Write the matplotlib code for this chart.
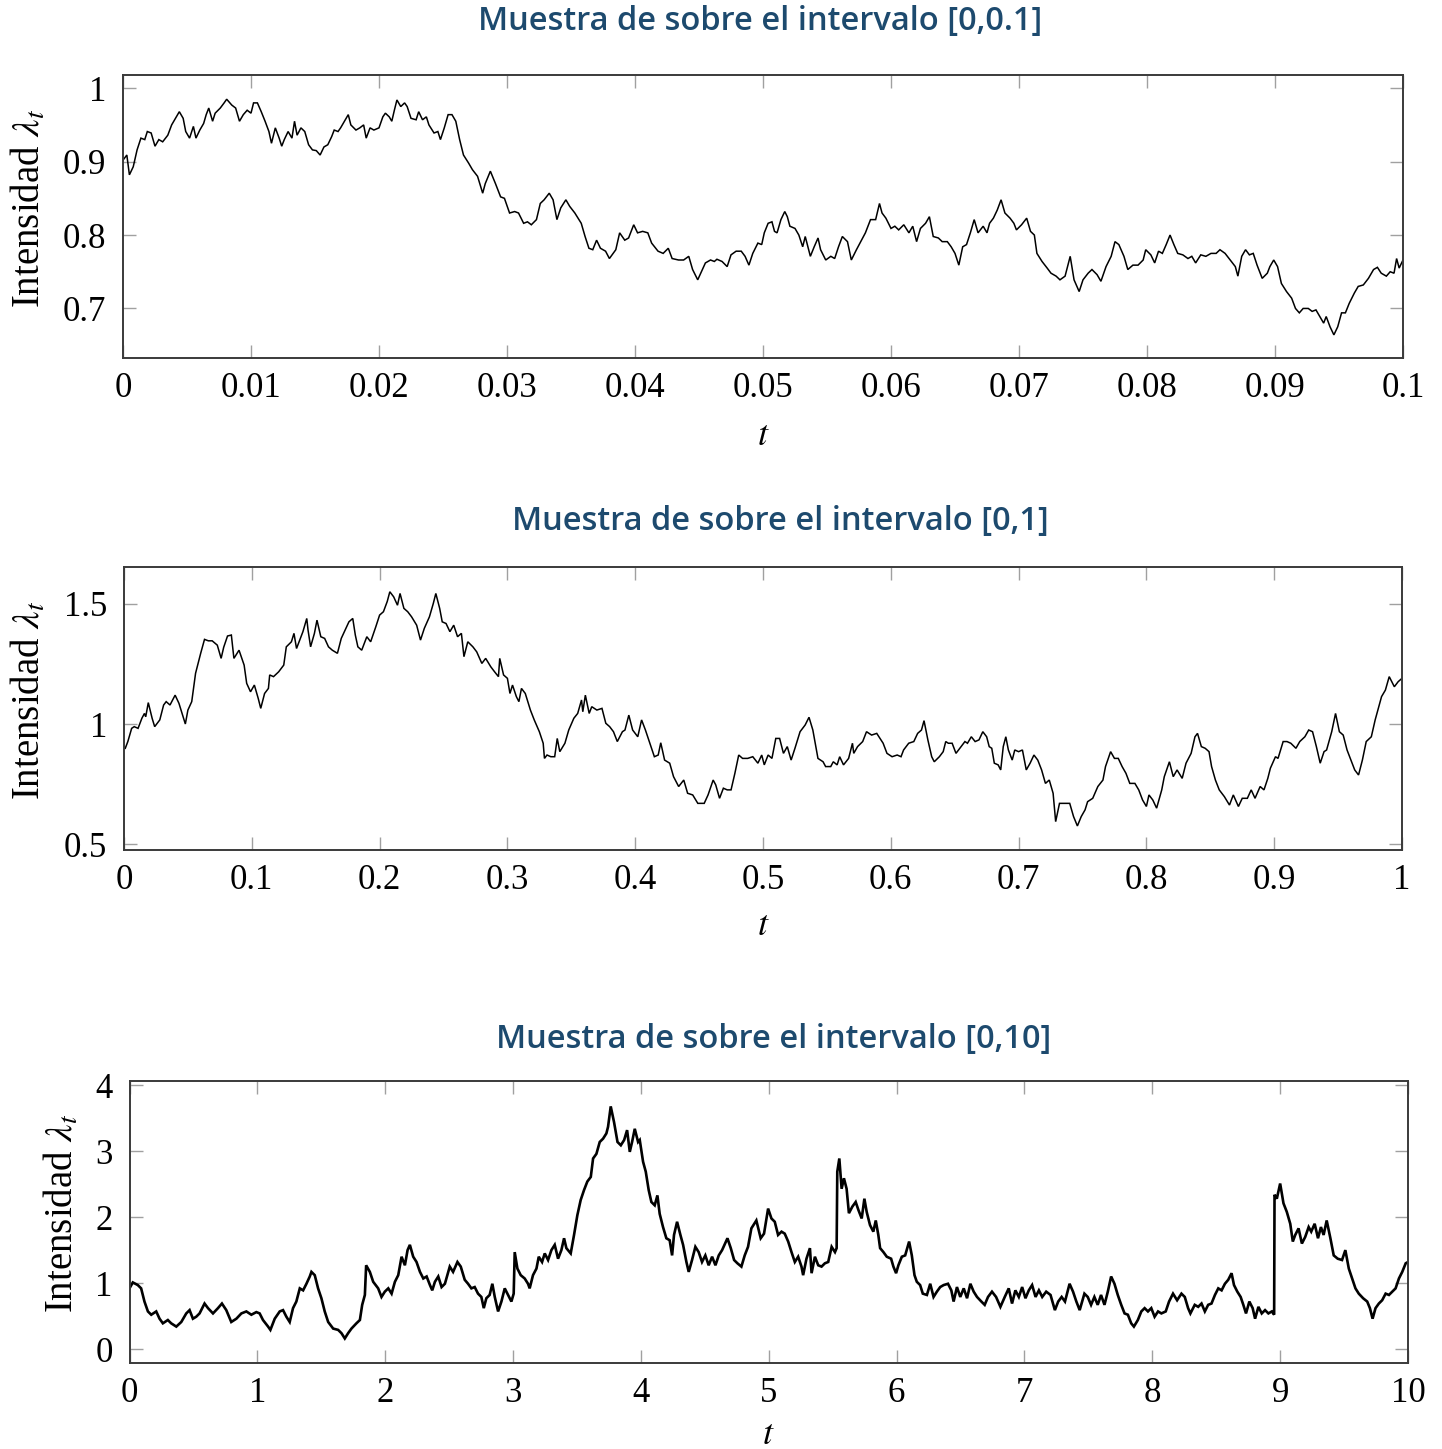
import matplotlib
matplotlib.use("Agg")
import matplotlib.pyplot as plt

plt.rcParams['mathtext.fontset'] = 'stix'
plt.rcParams['font.family'] = ['Liberation Serif', 'DejaVu Serif']

# ---------------------------------------------------------------- data
titles = ["Muestra de sobre el intervalo [0,0.1]",
          "Muestra de sobre el intervalo [0,1]",
          "Muestra de sobre el intervalo [0,10]"]

# Path on [0, 0.1]
p1_t = [0.0000, 0.0003, 0.0005, 0.0008, 0.0011, 0.0014, 0.0017, 0.0019, 0.0022, 0.0025,
        0.0028, 0.0031, 0.0035, 0.0038, 0.0041, 0.0044, 0.0047, 0.0049, 0.0052, 0.0055,
        0.0057, 0.0060, 0.0063, 0.0065, 0.0067, 0.0070, 0.0072, 0.0076, 0.0079, 0.0081,
        0.0085, 0.0088, 0.0091, 0.0094, 0.0097, 0.0100, 0.0102, 0.0105, 0.0108, 0.0111,
        0.0114, 0.0116, 0.0119, 0.0122, 0.0124, 0.0126, 0.0129, 0.0132, 0.0134, 0.0136,
        0.0139, 0.0142, 0.0145, 0.0148, 0.0151, 0.0154, 0.0157, 0.0160, 0.0163, 0.0165,
        0.0168, 0.0170, 0.0173, 0.0176, 0.0178, 0.0182, 0.0185, 0.0188, 0.0190, 0.0193,
        0.0196, 0.0200, 0.0203, 0.0205, 0.0208, 0.0210, 0.0212, 0.0214, 0.0217, 0.0220,
        0.0222, 0.0225, 0.0229, 0.0231, 0.0234, 0.0237, 0.0239, 0.0243, 0.0246, 0.0248,
        0.0251, 0.0254, 0.0257, 0.0260, 0.0263, 0.0266, 0.0270, 0.0273, 0.0277, 0.0281,
        0.0283, 0.0287, 0.0291, 0.0295, 0.0298, 0.0302, 0.0306, 0.0309, 0.0313, 0.0316,
        0.0319, 0.0323, 0.0326, 0.0329, 0.0333, 0.0336, 0.0339, 0.0342, 0.0346, 0.0349,
        0.0353, 0.0358, 0.0361, 0.0364, 0.0367, 0.0370, 0.0373, 0.0377, 0.0380, 0.0385,
        0.0388, 0.0392, 0.0395, 0.0399, 0.0402, 0.0406, 0.0410, 0.0413, 0.0418, 0.0422,
        0.0426, 0.0429, 0.0434, 0.0438, 0.0442, 0.0445, 0.0449, 0.0455, 0.0459, 0.0462,
        0.0464, 0.0468, 0.0472, 0.0475, 0.0479, 0.0483, 0.0486, 0.0489, 0.0492, 0.0496,
        0.0499, 0.0501, 0.0504, 0.0507, 0.0509, 0.0511, 0.0514, 0.0517, 0.0519, 0.0521,
        0.0525, 0.0528, 0.0531, 0.0533, 0.0537, 0.0540, 0.0543, 0.0545, 0.0549, 0.0553,
        0.0556, 0.0559, 0.0562, 0.0566, 0.0569, 0.0573, 0.0577, 0.0580, 0.0584, 0.0588,
        0.0591, 0.0593, 0.0596, 0.0600, 0.0603, 0.0606, 0.0610, 0.0614, 0.0617, 0.0620,
        0.0623, 0.0627, 0.0630, 0.0633, 0.0637, 0.0640, 0.0644, 0.0647, 0.0650, 0.0653,
        0.0656, 0.0659, 0.0662, 0.0665, 0.0668, 0.0672, 0.0675, 0.0677, 0.0680, 0.0683,
        0.0686, 0.0689, 0.0693, 0.0696, 0.0698, 0.0702, 0.0706, 0.0709, 0.0712, 0.0714,
        0.0718, 0.0722, 0.0725, 0.0729, 0.0732, 0.0736, 0.0740, 0.0743, 0.0747, 0.0750,
        0.0754, 0.0757, 0.0761, 0.0764, 0.0768, 0.0772, 0.0775, 0.0778, 0.0782, 0.0785,
        0.0789, 0.0793, 0.0797, 0.0799, 0.0803, 0.0806, 0.0809, 0.0812, 0.0815, 0.0818,
        0.0821, 0.0824, 0.0828, 0.0832, 0.0835, 0.0838, 0.0842, 0.0846, 0.0850, 0.0854,
        0.0857, 0.0861, 0.0865, 0.0869, 0.0871, 0.0874, 0.0877, 0.0880, 0.0883, 0.0886,
        0.0890, 0.0894, 0.0896, 0.0899, 0.0902, 0.0905, 0.0909, 0.0913, 0.0916, 0.0919,
        0.0922, 0.0926, 0.0929, 0.0932, 0.0935, 0.0938, 0.0940, 0.0943, 0.0946, 0.0949,
        0.0952, 0.0955, 0.0958, 0.0962, 0.0965, 0.0969, 0.0973, 0.0977, 0.0980, 0.0983,
        0.0987, 0.0990, 0.0993, 0.0995, 0.0997, 0.1000]
p1_y = [0.902, 0.909, 0.882, 0.893, 0.916, 0.932, 0.930, 0.941, 0.939, 0.921,
        0.930, 0.927, 0.936, 0.950, 0.959, 0.968, 0.959, 0.941, 0.932, 0.948,
        0.932, 0.943, 0.952, 0.964, 0.973, 0.955, 0.966, 0.973, 0.980, 0.985,
        0.977, 0.973, 0.955, 0.964, 0.970, 0.966, 0.980, 0.980, 0.968, 0.955,
        0.941, 0.925, 0.946, 0.932, 0.921, 0.930, 0.941, 0.932, 0.955, 0.936,
        0.946, 0.941, 0.923, 0.916, 0.915, 0.909, 0.920, 0.923, 0.934, 0.943,
        0.941, 0.946, 0.955, 0.964, 0.950, 0.943, 0.946, 0.950, 0.932, 0.946,
        0.943, 0.946, 0.961, 0.966, 0.961, 0.955, 0.970, 0.984, 0.975, 0.980,
        0.975, 0.959, 0.957, 0.968, 0.957, 0.961, 0.950, 0.939, 0.941, 0.930,
        0.946, 0.964, 0.964, 0.955, 0.930, 0.909, 0.898, 0.889, 0.880, 0.857,
        0.870, 0.887, 0.870, 0.852, 0.850, 0.830, 0.832, 0.830, 0.816, 0.818,
        0.814, 0.821, 0.843, 0.848, 0.857, 0.848, 0.821, 0.837, 0.848, 0.839,
        0.830, 0.816, 0.798, 0.782, 0.780, 0.793, 0.782, 0.778, 0.768, 0.780,
        0.803, 0.793, 0.796, 0.814, 0.803, 0.805, 0.803, 0.789, 0.778, 0.775,
        0.782, 0.768, 0.766, 0.766, 0.771, 0.753, 0.739, 0.762, 0.766, 0.764,
        0.767, 0.764, 0.757, 0.773, 0.778, 0.778, 0.771, 0.759, 0.775, 0.789,
        0.787, 0.803, 0.816, 0.818, 0.805, 0.803, 0.821, 0.832, 0.825, 0.812,
        0.809, 0.800, 0.784, 0.798, 0.771, 0.784, 0.796, 0.780, 0.766, 0.771,
        0.768, 0.784, 0.798, 0.791, 0.766, 0.780, 0.793, 0.803, 0.821, 0.821,
        0.843, 0.830, 0.823, 0.809, 0.812, 0.807, 0.814, 0.803, 0.812, 0.791,
        0.809, 0.816, 0.825, 0.798, 0.796, 0.791, 0.791, 0.784, 0.775, 0.759,
        0.784, 0.787, 0.803, 0.821, 0.803, 0.812, 0.803, 0.816, 0.823, 0.834,
        0.848, 0.830, 0.823, 0.816, 0.807, 0.814, 0.823, 0.805, 0.800, 0.775,
        0.764, 0.755, 0.748, 0.744, 0.739, 0.744, 0.771, 0.739, 0.723, 0.739,
        0.748, 0.753, 0.746, 0.737, 0.757, 0.771, 0.791, 0.787, 0.771, 0.753,
        0.759, 0.759, 0.766, 0.780, 0.773, 0.762, 0.778, 0.775, 0.787, 0.800,
        0.787, 0.775, 0.773, 0.768, 0.771, 0.762, 0.773, 0.771, 0.775, 0.775,
        0.780, 0.775, 0.766, 0.757, 0.744, 0.771, 0.780, 0.773, 0.775, 0.759,
        0.741, 0.748, 0.757, 0.766, 0.757, 0.734, 0.723, 0.714, 0.700, 0.694,
        0.700, 0.700, 0.696, 0.698, 0.689, 0.680, 0.689, 0.675, 0.664, 0.675,
        0.694, 0.694, 0.707, 0.721, 0.730, 0.732, 0.741, 0.753, 0.756, 0.748,
        0.744, 0.750, 0.748, 0.768, 0.755, 0.766]

# Path on [0, 1]
p2_t = [0.001, 0.003, 0.006, 0.008, 0.011, 0.014, 0.016, 0.017, 0.019, 0.022,
        0.024, 0.028, 0.031, 0.033, 0.036, 0.040, 0.043, 0.048, 0.050, 0.053,
        0.056, 0.060, 0.063, 0.066, 0.069, 0.073, 0.076, 0.078, 0.081, 0.084,
        0.086, 0.090, 0.094, 0.096, 0.099, 0.102, 0.105, 0.107, 0.110, 0.113,
        0.114, 0.117, 0.121, 0.125, 0.127, 0.131, 0.133, 0.135, 0.138, 0.140,
        0.143, 0.144, 0.146, 0.149, 0.151, 0.154, 0.157, 0.160, 0.163, 0.167,
        0.170, 0.173, 0.176, 0.179, 0.181, 0.183, 0.186, 0.190, 0.193, 0.197,
        0.200, 0.203, 0.206, 0.208, 0.211, 0.214, 0.216, 0.219, 0.222, 0.225,
        0.229, 0.232, 0.235, 0.239, 0.242, 0.244, 0.247, 0.249, 0.252, 0.255,
        0.258, 0.261, 0.264, 0.266, 0.269, 0.273, 0.276, 0.280, 0.283, 0.287,
        0.290, 0.293, 0.294, 0.297, 0.300, 0.302, 0.304, 0.307, 0.309, 0.311,
        0.314, 0.318, 0.321, 0.325, 0.328, 0.329, 0.331, 0.334, 0.337, 0.339,
        0.341, 0.345, 0.348, 0.352, 0.355, 0.358, 0.359, 0.361, 0.364, 0.366,
        0.370, 0.374, 0.377, 0.380, 0.383, 0.386, 0.390, 0.392, 0.395, 0.398,
        0.402, 0.405, 0.408, 0.411, 0.415, 0.418, 0.420, 0.423, 0.427, 0.430,
        0.434, 0.438, 0.441, 0.445, 0.449, 0.454, 0.457, 0.461, 0.463, 0.466,
        0.469, 0.472, 0.475, 0.478, 0.481, 0.484, 0.488, 0.492, 0.496, 0.499,
        0.501, 0.504, 0.507, 0.510, 0.513, 0.516, 0.519, 0.522, 0.525, 0.529,
        0.533, 0.536, 0.539, 0.543, 0.547, 0.549, 0.553, 0.555, 0.558, 0.560,
        0.563, 0.567, 0.570, 0.571, 0.574, 0.578, 0.581, 0.585, 0.589, 0.594,
        0.597, 0.601, 0.605, 0.608, 0.610, 0.614, 0.618, 0.621, 0.624, 0.626,
        0.629, 0.632, 0.634, 0.638, 0.641, 0.643, 0.645, 0.648, 0.651, 0.654,
        0.658, 0.660, 0.663, 0.666, 0.669, 0.672, 0.675, 0.677, 0.679, 0.681,
        0.684, 0.686, 0.688, 0.690, 0.692, 0.695, 0.697, 0.700, 0.703, 0.706,
        0.709, 0.712, 0.715, 0.718, 0.721, 0.724, 0.727, 0.729, 0.732, 0.736,
        0.740, 0.743, 0.746, 0.749, 0.752, 0.754, 0.758, 0.762, 0.766, 0.768,
        0.772, 0.775, 0.778, 0.781, 0.784, 0.787, 0.791, 0.794, 0.797, 0.800,
        0.802, 0.805, 0.808, 0.812, 0.814, 0.818, 0.821, 0.824, 0.828, 0.831,
        0.835, 0.838, 0.840, 0.843, 0.846, 0.849, 0.851, 0.854, 0.857, 0.861,
        0.865, 0.868, 0.872, 0.875, 0.879, 0.882, 0.885, 0.889, 0.892, 0.895,
        0.897, 0.901, 0.903, 0.907, 0.910, 0.913, 0.917, 0.920, 0.924, 0.927,
        0.930, 0.933, 0.936, 0.939, 0.941, 0.945, 0.948, 0.951, 0.954, 0.957,
        0.961, 0.963, 0.966, 0.969, 0.972, 0.976, 0.979, 0.984, 0.987, 0.990,
        0.994, 0.997, 1.000]
p2_y = [0.899, 0.927, 0.982, 0.989, 0.982, 1.024, 1.044, 1.030, 1.089, 1.024,
        0.989, 1.017, 1.079, 1.093, 1.079, 1.120, 1.086, 1.000, 1.058, 1.093,
        1.211, 1.294, 1.352, 1.346, 1.346, 1.328, 1.273, 1.319, 1.366, 1.370,
        1.273, 1.307, 1.245, 1.169, 1.134, 1.162, 1.107, 1.065, 1.127, 1.148,
        1.204, 1.197, 1.217, 1.245, 1.321, 1.342, 1.377, 1.314, 1.356, 1.384,
        1.439, 1.391, 1.321, 1.377, 1.432, 1.363, 1.356, 1.321, 1.307, 1.294,
        1.356, 1.391, 1.425, 1.439, 1.370, 1.321, 1.307, 1.363, 1.342, 1.404,
        1.453, 1.467, 1.510, 1.550, 1.529, 1.494, 1.543, 1.481, 1.467, 1.446,
        1.411, 1.349, 1.398, 1.446, 1.501, 1.543, 1.481, 1.425, 1.418, 1.384,
        1.411, 1.363, 1.377, 1.280, 1.342, 1.321, 1.300, 1.252, 1.273, 1.238,
        1.217, 1.197, 1.273, 1.204, 1.190, 1.127, 1.162, 1.114, 1.093, 1.148,
        1.127, 1.058, 1.017, 0.968, 0.920, 0.857, 0.871, 0.864, 0.864, 0.940,
        0.885, 0.920, 0.975, 1.024, 1.044, 1.100, 1.051, 1.120, 1.044, 1.072,
        1.058, 1.065, 1.003, 0.989, 0.968, 0.927, 0.968, 0.975, 1.037, 0.975,
        0.947, 1.017, 0.975, 0.927, 0.864, 0.871, 0.922, 0.850, 0.837, 0.781,
        0.740, 0.767, 0.712, 0.705, 0.670, 0.670, 0.705, 0.767, 0.747, 0.691,
        0.733, 0.726, 0.726, 0.795, 0.871, 0.857, 0.857, 0.864, 0.837, 0.871,
        0.830, 0.871, 0.857, 0.940, 0.940, 0.878, 0.906, 0.850, 0.899, 0.968,
        0.996, 1.028, 0.975, 0.857, 0.843, 0.823, 0.823, 0.843, 0.830, 0.864,
        0.830, 0.857, 0.920, 0.878, 0.906, 0.927, 0.968, 0.954, 0.961, 0.920,
        0.878, 0.864, 0.871, 0.864, 0.892, 0.920, 0.927, 0.961, 0.975, 1.014,
        0.934, 0.864, 0.843, 0.864, 0.885, 0.927, 0.920, 0.920, 0.878, 0.899,
        0.927, 0.920, 0.947, 0.927, 0.934, 0.968, 0.947, 0.906, 0.899, 0.837,
        0.830, 0.809, 0.906, 0.947, 0.892, 0.850, 0.892, 0.885, 0.892, 0.809,
        0.837, 0.871, 0.850, 0.809, 0.753, 0.767, 0.712, 0.594, 0.670, 0.670,
        0.670, 0.615, 0.576, 0.615, 0.643, 0.677, 0.691, 0.740, 0.767, 0.823,
        0.885, 0.857, 0.857, 0.823, 0.795, 0.753, 0.753, 0.726, 0.684, 0.657,
        0.705, 0.684, 0.650, 0.726, 0.781, 0.843, 0.781, 0.809, 0.774, 0.837,
        0.878, 0.947, 0.961, 0.906, 0.899, 0.885, 0.823, 0.767, 0.726, 0.698,
        0.663, 0.705, 0.657, 0.691, 0.691, 0.726, 0.691, 0.740, 0.726, 0.774,
        0.816, 0.864, 0.857, 0.927, 0.927, 0.920, 0.899, 0.927, 0.947, 0.975,
        0.968, 0.906, 0.837, 0.885, 0.892, 0.968, 1.044, 0.968, 0.954, 0.892,
        0.837, 0.809, 0.788, 0.850, 0.927, 0.947, 1.017, 1.114, 1.141, 1.197,
        1.155, 1.176, 1.190]

# Path on [0, 10]
p3_t = [0.000, 0.026, 0.065, 0.091, 0.117, 0.144, 0.170, 0.209, 0.235, 0.261,
        0.300, 0.326, 0.366, 0.405, 0.444, 0.470, 0.496, 0.522, 0.548, 0.587,
        0.614, 0.653, 0.692, 0.723, 0.757, 0.796, 0.836, 0.875, 0.914, 0.953,
        0.992, 1.018, 1.044, 1.084, 1.102, 1.136, 1.175, 1.201, 1.227, 1.253,
        1.279, 1.305, 1.332, 1.358, 1.384, 1.410, 1.423, 1.449, 1.475, 1.501,
        1.527, 1.554, 1.593, 1.632, 1.658, 1.684, 1.710, 1.736, 1.775, 1.802,
        1.820, 1.841, 1.851, 1.880, 1.906, 1.945, 1.971, 1.997, 2.024, 2.050,
        2.076, 2.102, 2.128, 2.154, 2.175, 2.193, 2.219, 2.245, 2.272, 2.298,
        2.324, 2.350, 2.368, 2.389, 2.415, 2.441, 2.467, 2.505, 2.531, 2.565,
        2.591, 2.622, 2.648, 2.674, 2.700, 2.726, 2.752, 2.771, 2.791, 2.817,
        2.838, 2.857, 2.883, 2.909, 2.935, 2.961, 2.987, 3.005, 3.013, 3.034,
        3.060, 3.091, 3.117, 3.130, 3.156, 3.183, 3.201, 3.227, 3.248, 3.274,
        3.300, 3.326, 3.352, 3.378, 3.399, 3.417, 3.451, 3.477, 3.503, 3.529,
        3.555, 3.581, 3.608, 3.626, 3.652, 3.678, 3.704, 3.730, 3.743, 3.764,
        3.790, 3.817, 3.843, 3.869, 3.892, 3.913, 3.931, 3.952, 3.978, 3.991,
        4.017, 4.038, 4.061, 4.082, 4.108, 4.129, 4.147, 4.173, 4.199, 4.225,
        4.244, 4.259, 4.283, 4.309, 4.330, 4.356, 4.374, 4.400, 4.426, 4.452,
        4.478, 4.504, 4.530, 4.557, 4.583, 4.609, 4.635, 4.677, 4.703, 4.729,
        4.755, 4.786, 4.812, 4.838, 4.864, 4.903, 4.937, 4.963, 4.995, 5.021,
        5.047, 5.073, 5.100, 5.125, 5.152, 5.178, 5.204, 5.230, 5.256, 5.269,
        5.295, 5.322, 5.335, 5.361, 5.387, 5.413, 5.439, 5.465, 5.492, 5.518,
        5.531, 5.536, 5.552, 5.570, 5.588, 5.609, 5.627, 5.654, 5.680, 5.701,
        5.727, 5.748, 5.766, 5.792, 5.818, 5.837, 5.857, 5.871, 5.897, 5.923,
        5.957, 5.975, 5.996, 6.014, 6.041, 6.067, 6.098, 6.119, 6.140, 6.158,
        6.184, 6.205, 6.237, 6.263, 6.289, 6.315, 6.341, 6.368, 6.402, 6.428,
        6.446, 6.472, 6.498, 6.525, 6.551, 6.577, 6.603, 6.629, 6.663, 6.689,
        6.715, 6.746, 6.778, 6.812, 6.846, 6.877, 6.903, 6.929, 6.956, 6.982,
        7.008, 7.034, 7.060, 7.087, 7.113, 7.139, 7.170, 7.204, 7.238, 7.264,
        7.291, 7.317, 7.353, 7.380, 7.406, 7.432, 7.469, 7.495, 7.521, 7.547,
        7.573, 7.599, 7.626, 7.652, 7.678, 7.704, 7.730, 7.757, 7.783, 7.809,
        7.835, 7.856, 7.887, 7.914, 7.940, 7.966, 7.992, 8.018, 8.045, 8.071,
        8.105, 8.131, 8.162, 8.194, 8.228, 8.254, 8.280, 8.298, 8.332, 8.359,
        8.385, 8.411, 8.437, 8.463, 8.490, 8.516, 8.542, 8.568, 8.594, 8.620,
        8.639, 8.665, 8.691, 8.712, 8.733, 8.759, 8.785, 8.804, 8.830, 8.856,
        8.882, 8.908, 8.935, 8.953, 8.956, 8.974, 9.000, 9.026, 9.052, 9.079,
        9.099, 9.118, 9.144, 9.170, 9.196, 9.223, 9.243, 9.270, 9.296, 9.319,
        9.340, 9.364, 9.393, 9.419, 9.450, 9.484, 9.510, 9.537, 9.563, 9.589,
        9.615, 9.649, 9.681, 9.702, 9.723, 9.746, 9.772, 9.798, 9.825, 9.851,
        9.877, 9.903, 9.929, 9.955, 9.982, 10.000]
p3_y = [0.92, 1.01, 0.97, 0.92, 0.72, 0.57, 0.52, 0.57, 0.46, 0.39,
        0.44, 0.39, 0.34, 0.41, 0.54, 0.59, 0.46, 0.49, 0.54, 0.69,
        0.62, 0.54, 0.62, 0.69, 0.59, 0.41, 0.46, 0.54, 0.57, 0.52,
        0.56, 0.54, 0.44, 0.34, 0.29, 0.46, 0.57, 0.59, 0.49, 0.41,
        0.62, 0.72, 0.92, 0.89, 0.99, 1.10, 1.17, 1.12, 0.92, 0.77,
        0.57, 0.41, 0.31, 0.29, 0.24, 0.16, 0.24, 0.31, 0.39, 0.44,
        0.67, 0.82, 1.27, 1.17, 1.02, 0.92, 0.79, 0.87, 0.92, 0.84,
        1.02, 1.12, 1.40, 1.27, 1.50, 1.58, 1.40, 1.32, 1.17, 1.07,
        1.10, 0.97, 0.89, 1.02, 1.10, 0.94, 0.99, 1.25, 1.17, 1.32,
        1.25, 1.05, 0.99, 0.92, 0.94, 0.84, 0.79, 0.62, 0.77, 0.82,
        0.99, 0.79, 0.57, 0.72, 0.92, 0.82, 0.72, 0.84, 1.47, 1.22,
        1.12, 1.07, 0.99, 0.92, 1.12, 1.22, 1.40, 1.32, 1.45, 1.35,
        1.50, 1.58, 1.37, 1.50, 1.68, 1.53, 1.45, 1.73, 2.03, 2.26,
        2.41, 2.54, 2.61, 2.89, 2.96, 3.14, 3.19, 3.27, 3.37, 3.68,
        3.44, 3.14, 3.09, 3.17, 3.32, 2.99, 3.14, 3.34, 3.14, 3.17,
        2.84, 2.69, 2.41, 2.23, 2.18, 2.33, 2.05, 1.85, 1.68, 1.65,
        1.42, 1.73, 1.93, 1.73, 1.58, 1.32, 1.17, 1.35, 1.55, 1.47,
        1.32, 1.42, 1.27, 1.40, 1.27, 1.42, 1.50, 1.68, 1.53, 1.35,
        1.30, 1.25, 1.42, 1.55, 1.83, 1.95, 1.68, 1.75, 2.13, 1.98,
        1.93, 1.73, 1.78, 1.75, 1.63, 1.47, 1.32, 1.40, 1.25, 1.12,
        1.37, 1.53, 1.15, 1.40, 1.27, 1.25, 1.30, 1.32, 1.55, 1.47,
        1.53, 2.69, 2.89, 2.43, 2.59, 2.43, 2.06, 2.16, 2.23, 2.11,
        1.98, 2.28, 2.08, 1.88, 1.78, 1.95, 1.73, 1.53, 1.47, 1.40,
        1.37, 1.25, 1.15, 1.27, 1.40, 1.42, 1.63, 1.42, 1.12, 1.02,
        0.97, 0.84, 0.82, 0.99, 0.79, 0.87, 0.94, 0.97, 0.99, 0.89,
        0.72, 0.94, 0.79, 0.92, 0.77, 0.99, 0.87, 0.79, 0.72, 0.67,
        0.79, 0.87, 0.79, 0.64, 0.79, 0.92, 0.69, 0.89, 0.79, 0.94,
        0.77, 0.89, 0.97, 0.79, 0.89, 0.79, 0.87, 0.82, 0.59, 0.72,
        0.79, 0.72, 0.99, 0.87, 0.72, 0.59, 0.84, 0.79, 0.67, 0.79,
        0.67, 0.82, 0.67, 0.87, 1.10, 0.99, 0.82, 0.67, 0.54, 0.52,
        0.39, 0.34, 0.44, 0.57, 0.62, 0.57, 0.62, 0.49, 0.57, 0.54,
        0.57, 0.72, 0.84, 0.74, 0.84, 0.79, 0.62, 0.54, 0.67, 0.64,
        0.69, 0.57, 0.67, 0.69, 0.82, 0.92, 0.89, 0.99, 1.05, 1.15,
        0.97, 0.87, 0.79, 0.67, 0.54, 0.72, 0.62, 0.46, 0.64, 0.54,
        0.59, 0.54, 0.57, 0.52, 2.34, 2.28, 2.51, 2.21, 2.08, 1.90,
        1.63, 1.73, 1.83, 1.60, 1.70, 1.85, 1.78, 1.90, 1.68, 1.85,
        1.73, 1.95, 1.68, 1.42, 1.37, 1.35, 1.50, 1.22, 1.07, 0.92,
        0.84, 0.77, 0.72, 0.62, 0.46, 0.62, 0.69, 0.74, 0.84, 0.82,
        0.87, 0.92, 1.07, 1.17, 1.30, 1.32]

x_ticks = [[0, 0.01, 0.02, 0.03, 0.04, 0.05, 0.06, 0.07, 0.08, 0.09, 0.1],
           [0, 0.1, 0.2, 0.3, 0.4, 0.5, 0.6, 0.7, 0.8, 0.9, 1],
           [0, 1, 2, 3, 4, 5, 6, 7, 8, 9, 10]]
x_tick_labels = [["0", "0.01", "0.02", "0.03", "0.04", "0.05", "0.06", "0.07", "0.08", "0.09", "0.1"],
                 ["0", "0.1", "0.2", "0.3", "0.4", "0.5", "0.6", "0.7", "0.8", "0.9", "1"],
                 ["0", "1", "2", "3", "4", "5", "6", "7", "8", "9", "10"]]
y_ticks = [[0.7, 0.8, 0.9, 1.0], [0.5, 1.0, 1.5], [0, 1, 2, 3, 4]]
y_tick_labels = [["0.7", "0.8", "0.9", "1"], ["0.5", "1", "1.5"], ["0", "1", "2", "3", "4"]]

# ---------------------------------------------------------------- layout
W, H = 1442, 1449
fig = plt.figure(figsize=(W / 100, H / 100), dpi=100)

def frac_box(left, top, right, bottom):
    return [left / W, 1 - bottom / H, (right - left) / W, (bottom - top) / H]

boxes = [frac_box(123, 75, 1403, 358),
         frac_box(124, 567, 1402, 850),
         frac_box(129.5, 1081, 1408, 1363)]
xlims = [(0, 0.1), (0, 1), (0, 10)]
ylims = [(0.6325, 1.018), (0.476, 1.653), (-0.212, 4.065)]
paths = [(p1_t, p1_y), (p2_t, p2_y), (p3_t, p3_y)]
line_widths = [1.1, 1.1, 1.9]
ylabel_x = [-0.058, -0.059, -0.037]
xlabel_y = [-0.218, -0.212, -0.198]
title_pos = [(760, 22), (780, 521), (774, 1039)]

for i in range(3):
    ax = fig.add_axes(boxes[i])
    t, y = paths[i]
    ax.plot(t, y, color='black', lw=line_widths[i], solid_joinstyle='miter')
    ax.set_xlim(*xlims[i])
    ax.set_ylim(*ylims[i])
    ax.set_xticks(x_ticks[i])
    ax.set_xticklabels(x_tick_labels[i])
    ax.set_yticks(y_ticks[i])
    ax.set_yticklabels(y_tick_labels[i])
    ax.tick_params(direction='in', top=True, right=True, length=9.5, width=1.0,
                   color='#a0a0a0', labelsize=25, labelcolor='black')
    ax.tick_params(axis='x', pad=10)
    ax.tick_params(axis='y', pad=12)
    for s in ax.spines.values():
        s.set_color('#3a3a3a')
        s.set_linewidth(1.4)
    ax.set_ylabel(r'Intensidad $\lambda_t$', fontsize=28)
    ax.yaxis.set_label_coords(ylabel_x[i], 0.53)
    ax.set_xlabel(r'$t$', fontsize=26)
    ax.xaxis.set_label_coords(0.5, xlabel_y[i])
    tx, ty = title_pos[i]
    fig.text(tx / W, 1 - ty / H, titles[i], ha='center', va='center',
             fontsize=23.5, fontweight='semibold', color='#1d4a6e',
             family=['Open Sans', 'DejaVu Sans'])

fig.savefig('out.png', dpi=100, facecolor='white')
